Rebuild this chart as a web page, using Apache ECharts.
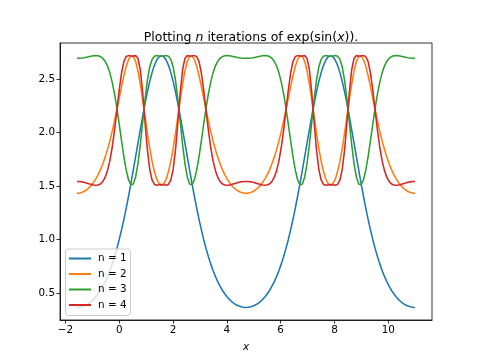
<!DOCTYPE html>
<html><head><meta charset="utf-8">
<script src="https://cdn.jsdelivr.net/npm/echarts@6/dist/echarts.min.js"></script>
<style>html,body{margin:0;padding:0;background:#fff}#c{width:480px;height:360px}</style>
</head><body><div id="c"></div>
<script>
const xs = [-1.5708,-1.4835,-1.3963,-1.3090,-1.2217,-1.1345,-1.0472,-0.9599,-0.8727,-0.7854,-0.6981,-0.6109,-0.5236,-0.4363,-0.3491,-0.2618,-0.1745,-0.0873,0,0.0873,0.1745,0.2618,0.3491,0.4363,0.5236,0.6109,0.6981,0.7854,0.8727,0.9599,1.0472,1.1345,1.2217,1.3090,1.3963,1.4835,1.5708,1.6581,1.7453,1.8326,1.9199,2.0071,2.0944,2.1817,2.2689,2.3562,2.4435,2.5307,2.6180,2.7053,2.7925,2.8798,2.9671,3.0543,3.1416,3.2289,3.3161,3.4034,3.4907,3.5779,3.6652,3.7525,3.8397,3.9270,4.0143,4.1015,4.1888,4.2761,4.3633,4.4506,4.5379,4.6251,4.7124,4.7997,4.8869,4.9742,5.0615,5.1487,5.2360,5.3233,5.4105,5.4978,5.5851,5.6723,5.7596,5.8469,5.9341,6.0214,6.1087,6.1959,6.2832,6.3705,6.4577,6.5450,6.6323,6.7195,6.8068,6.8941,6.9813,7.0686,7.1558,7.2431,7.3304,7.4176,7.5049,7.5922,7.6794,7.7667,7.8540,7.9412,8.0285,8.1158,8.2030,8.2903,8.3776,8.4648,8.5521,8.6394,8.7266,8.8139,8.9012,8.9884,9.0757,9.1630,9.2502,9.3375,9.4248,9.5120,9.5993,9.6866,9.7738,9.8611,9.9484,10.0356,10.1229,10.2102,10.2974,10.3847,10.4720,10.5592,10.6465,10.7338,10.8210,10.9083,10.9956];

const n1 = [0.3679,0.3693,0.3735,0.3806,0.3908,0.4040,0.4206,0.4408,0.4649,0.4931,0.5258,0.5635,0.6065,0.6553,0.7103,0.7720,0.8406,0.9165,1.0000,1.0911,1.1896,1.2954,1.4078,1.5260,1.6487,1.7746,1.9018,2.0281,2.1512,2.2686,2.3774,2.4752,2.5592,2.6272,2.6773,2.7079,2.7183,
2.7079,2.6773,2.6272,2.5592,2.4752,2.3774,2.2686,2.1512,2.0281,1.9018,1.7746,1.6487,1.5260,1.4078,1.2954,1.1896,1.0911,1.0000,0.9165,0.8406,0.7720,0.7103,0.6553,0.6065,0.5635,0.5258,0.4931,0.4649,0.4408,0.4206,0.4040,0.3908,0.3806,0.3735,0.3693,0.3679,
0.3693,0.3735,0.3806,0.3908,0.4040,0.4206,0.4408,0.4649,0.4931,0.5258,0.5635,0.6065,0.6553,0.7103,0.7720,0.8406,0.9165,1.0000,1.0911,1.1896,1.2954,1.4078,1.5260,1.6487,1.7746,1.9018,2.0281,2.1512,2.2686,2.3774,2.4752,2.5592,2.6272,2.6773,2.7079,2.7183,
2.7079,2.6773,2.6272,2.5592,2.4752,2.3774,2.2686,2.1512,2.0281,1.9018,1.7746,1.6487,1.5260,1.4078,1.2954,1.1896,1.0911,1.0000,0.9165,0.8406,0.7720,0.7103,0.6553,0.6065,0.5635,0.5258,0.4931,0.4649,0.4408,0.4206,0.4040,0.3908,0.3806,0.3735,0.3693,0.3679];

const n2 = [1.4328,1.4347,1.4404,1.4499,1.4636,1.4816,1.5043,1.5322,1.5656,1.6053,1.6519,1.7060,1.7683,1.8394,1.9195,2.0088,2.1065,2.2111,2.3198,2.4281,2.5301,2.6178,2.6825,2.7156,2.7100,2.6626,2.5747,2.4528,2.3076,2.1517,1.9975,1.8555,1.7333,1.6356,1.5649,1.5223,1.5080,
1.5223,1.5649,1.6356,1.7333,1.8555,1.9975,2.1517,2.3076,2.4528,2.5747,2.6626,2.7100,2.7156,2.6825,2.6178,2.5301,2.4281,2.3198,2.2111,2.1065,2.0088,1.9195,1.8394,1.7683,1.7060,1.6519,1.6053,1.5656,1.5322,1.5043,1.4816,1.4636,1.4499,1.4404,1.4347,1.4328,
1.4347,1.4404,1.4499,1.4636,1.4816,1.5043,1.5322,1.5656,1.6053,1.6519,1.7060,1.7683,1.8394,1.9195,2.0088,2.1065,2.2111,2.3198,2.4281,2.5301,2.6178,2.6825,2.7156,2.7100,2.6626,2.5747,2.4528,2.3076,2.1517,1.9975,1.8555,1.7333,1.6356,1.5649,1.5223,1.5080,
1.5223,1.5649,1.6356,1.7333,1.8555,1.9975,2.1517,2.3076,2.4528,2.5747,2.6626,2.7100,2.7156,2.6825,2.6178,2.5301,2.4281,2.3198,2.2111,2.1065,2.0088,1.9195,1.8394,1.7683,1.7060,1.6519,1.6053,1.5656,1.5322,1.5043,1.4816,1.4636,1.4499,1.4404,1.4347,1.4328];

const n3 = [2.6926,2.6933,2.6953,2.6985,2.7027,2.7075,2.7123,2.7163,2.7183,2.7167,2.7094,2.6936,2.6660,2.6226,2.5595,2.4734,2.3629,2.2298,2.0800,1.9241,1.7756,1.6491,1.5576,1.5117,1.5194,1.5855,1.7109,1.8881,2.0972,2.3070,2.4851,2.6110,2.6827,2.7126,2.7182,2.7151,2.7129,
2.7151,2.7182,2.7126,2.6827,2.6110,2.4851,2.3070,2.0972,1.8881,1.7109,1.5855,1.5194,1.5117,1.5576,1.6491,1.7756,1.9241,2.0800,2.2298,2.3629,2.4734,2.5595,2.6226,2.6660,2.6936,2.7094,2.7167,2.7183,2.7163,2.7123,2.7075,2.7027,2.6985,2.6953,2.6933,2.6926,
2.6933,2.6953,2.6985,2.7027,2.7075,2.7123,2.7163,2.7183,2.7167,2.7094,2.6936,2.6660,2.6226,2.5595,2.4734,2.3629,2.2298,2.0800,1.9241,1.7756,1.6491,1.5576,1.5117,1.5194,1.5855,1.7109,1.8881,2.0972,2.3070,2.4851,2.6110,2.6827,2.7126,2.7182,2.7151,2.7129,
2.7151,2.7182,2.7126,2.6827,2.6110,2.4851,2.3070,2.0972,1.8881,1.7109,1.5855,1.5194,1.5117,1.5576,1.6491,1.7756,1.9241,2.0800,2.2298,2.3629,2.4734,2.5595,2.6226,2.6660,2.6936,2.7094,2.7167,2.7183,2.7163,2.7123,2.7075,2.7027,2.6985,2.6953,2.6933,2.6926];

const n4 = [1.5436,1.5426,1.5398,1.5353,1.5295,1.5229,1.5163,1.5108,1.5080,1.5102,1.5203,1.5422,1.5808,1.6422,1.7329,1.8581,2.0185,2.2047,2.3944,2.5555,2.6621,2.7100,2.7181,2.7136,2.7147,2.7180,2.6918,2.5859,2.3741,2.0981,1.8411,1.6587,1.5573,1.5158,1.5081,1.5124,1.5154,
1.5124,1.5081,1.5158,1.5573,1.6587,1.8411,2.0981,2.3741,2.5859,2.6918,2.7180,2.7147,2.7136,2.7181,2.7100,2.6621,2.5555,2.3944,2.2047,2.0185,1.8581,1.7329,1.6422,1.5808,1.5422,1.5203,1.5102,1.5080,1.5108,1.5163,1.5229,1.5295,1.5353,1.5398,1.5426,1.5436,
1.5426,1.5398,1.5353,1.5295,1.5229,1.5163,1.5108,1.5080,1.5102,1.5203,1.5422,1.5808,1.6422,1.7329,1.8581,2.0185,2.2047,2.3944,2.5555,2.6621,2.7100,2.7181,2.7136,2.7147,2.7180,2.6918,2.5859,2.3741,2.0981,1.8411,1.6587,1.5573,1.5158,1.5081,1.5124,1.5154,
1.5124,1.5081,1.5158,1.5573,1.6587,1.8411,2.0981,2.3741,2.5859,2.6918,2.7180,2.7147,2.7136,2.7181,2.7100,2.6621,2.5555,2.3944,2.2047,2.0185,1.8581,1.7329,1.6422,1.5808,1.5422,1.5203,1.5102,1.5080,1.5108,1.5163,1.5229,1.5295,1.5353,1.5398,1.5426,1.5436];

const seriesNames = ['n = 1','n = 2','n = 3','n = 4'];
const seriesColors = ['#1f77b4','#ff7f0e','#2ca02c','#d62728'];
const xTicks = [-2,0,2,4,6,8,10];
const yTicks = [0.5,1.0,1.5,2.0,2.5];

const all = [n1,n2,n3,n4];
const FONT = 'DejaVu Sans';
const chart = echarts.init(document.getElementById('c'), null, {renderer:'canvas'});
chart.setOption({
  animation:false,
  backgroundColor:'#fff',
  title:{
    left:246, top:26, textAlign:'center',
    text:'{a|Plotting }{i|n}{a| iterations of exp(sin(}{i|x}{a|)).}',
    textStyle:{fontWeight:'normal',rich:{
      a:{fontFamily:FONT,fontSize:12.5,fontWeight:'normal',color:'#000'},
      i:{fontFamily:FONT,fontSize:12.5,fontWeight:'normal',fontStyle:'italic',color:'#000'}
    }}
  },
  legend:{
    left:65.5, top:249, orient:'vertical',
    data:seriesNames,
    icon:'rect', itemWidth:22, itemHeight:2, itemGap:2.5,
    padding:[3,4,4,3.5],
    backgroundColor:'rgba(255,255,255,0.8)', borderColor:'#cccccc', borderWidth:1, borderRadius:3,
    textStyle:{fontFamily:FONT,fontSize:10.4,color:'#000',lineHeight:13,padding:[0,0,0,2]}
  },
  grid:{left:60, top:43, width:372, height:277, show:true, borderColor:'#000', borderWidth:0.8, backgroundColor:'transparent'},
  xAxis:{
    type:'value', min:-2.1991, max:11.6239,
    name:'x', nameLocation:'middle', nameGap:22,
    nameTextStyle:{fontFamily:FONT,fontSize:10.4,fontStyle:'italic',color:'#000'},
    axisLine:{show:true,onZero:false,lineStyle:{color:'#000',width:0.8}},
    axisTick:{show:true,length:3.5,customValues:xTicks,lineStyle:{color:'#000',width:0.8}},
    axisLabel:{customValues:xTicks,margin:5,fontFamily:FONT,fontSize:10.4,color:'#000',
      formatter:v=>(v<0?'\u2212'+Math.abs(v):String(v))},
    splitLine:{show:false}
  },
  yAxis:{
    type:'value', min:0.2504, max:2.8358,
    axisLine:{show:true,onZero:false,lineStyle:{color:'#000',width:0.8}},
    axisTick:{show:true,length:3.5,customValues:yTicks,lineStyle:{color:'#000',width:0.8}},
    axisLabel:{customValues:yTicks,margin:5,fontFamily:FONT,fontSize:10.4,color:'#000',
      formatter:v=>v.toFixed(1)},
    splitLine:{show:false}
  },
  series: all.map((ys,i)=>({
    name:seriesNames[i], type:'line', symbol:'none', smooth:false,
    color:seriesColors[i],
    lineStyle:{width:1.56,color:seriesColors[i]},
    data: xs.map((x,j)=>[x,ys[j]])
  }))
});
</script></body></html>
